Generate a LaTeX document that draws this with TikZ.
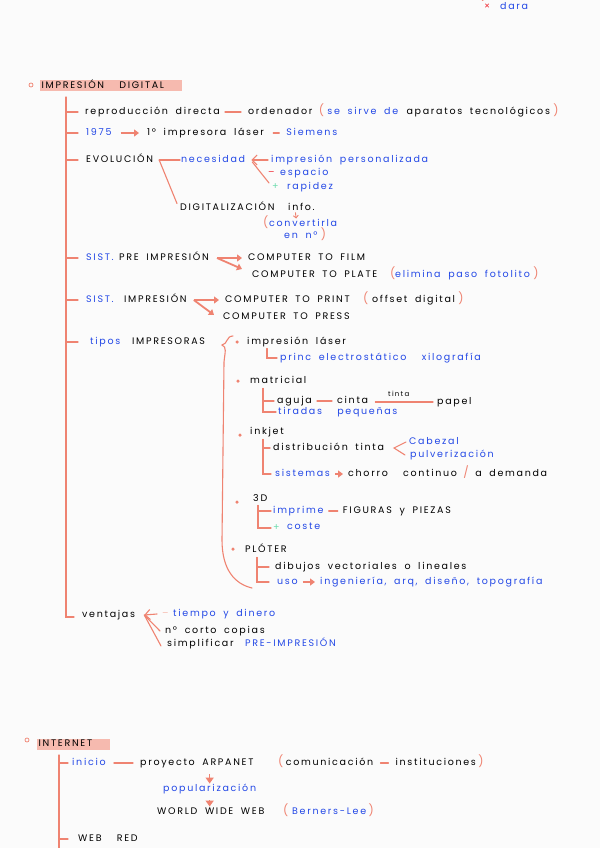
\documentclass[tikz,border=0pt]{standalone}
\usepackage{fontspec}
\setmainfont{Poppins}
\newfontfamily\hwf[LetterSpace=18,WordSpace=1.8]{Poppins}
\usetikzlibrary{arrows.meta}
\definecolor{sal}{HTML}{EF8371}
\definecolor{blu}{HTML}{2348E6}
\definecolor{hl}{HTML}{F6BAAF}
\definecolor{grn}{HTML}{70DDB0}
\definecolor{rd}{HTML}{F0303A}
\definecolor{bg}{HTML}{FBFBFB}
\newcommand\lowf{\hwf\fontsize{9.5}{10}\selectfont}
\newcommand\capf{\hwf\fontsize{9.5}{10}\selectfont}
\newcommand\smlf{\hwf\fontsize{7}{8}\selectfont}
\newcommand\parf{\hwf\fontsize{11.5}{12}\selectfont}
\tikzset{
  tx/.style={inner sep=0pt, anchor=west, font=\lowf, text=black, text height=6.5pt, text depth=2pt},
  bx/.style={tx, text=blu},
  kx/.style={tx, font=\capf},
  kb/.style={kx, text=blu},
  px/.style={tx, font=\parf, text=sal},
  gx/.style={tx, text=grn},
  rx/.style={tx, text=rd},
  ln/.style={draw=sal, line width=1.1pt, line cap=round},
  arr/.style={draw=sal, line width=1.8pt, -{Triangle[length=5pt,width=7pt]}},
  darr/.style={draw=sal, line width=1.4pt, -{Triangle[length=6pt,width=8pt]}, shorten <=7pt},
  barb/.style={ln, {Straight Barb[length=5pt,width=10pt]}-},
  ttl/.style={anchor=west, fill=hl, font=\capf, inner xsep=1.5pt, inner ysep=2pt, text height=6pt, text depth=1pt},
  bul/.style={circle, draw=sal, line width=.7pt, inner sep=0pt, minimum size=4pt},
  dot/.style={circle, fill=sal, inner sep=0pt, minimum size=3.5pt},
}
\begin{document}
\begin{tikzpicture}[x=1pt,y=-1pt]
\fill[bg] (0,0) rectangle (600,848);
\useasboundingbox (0,0) rectangle (600,848);

% top fragments
\node[rx] (x1) at (484,7) {×};
\node[bx] (dar) at (500,7) {dara};
\draw[ln] ([xshift=-1pt,yshift=2pt]x1.north west) -- ++(-10,-10);

% ===== IMPRESION DIGITAL =====
\node[bul] (b1) at (31,85) {};
\node[ttl] (t1) at (40,86) {\makebox[139pt][l]{IMPRESIÓN\ \ DIGITAL}};
\coordinate (s1) at (66,97);
\coordinate (s1b) at (66,617);
\draw[ln] (s1) -- (s1b) -- ++(8,0);

% row 1
\node[tx] (rep) at (85,112) {reproducción directa};
\node[tx] (ord) at (248,112) {ordenador};
\draw[ln] ([xshift=5pt]rep.east) -- ([xshift=-7pt]ord.west);
\node[px] (p1) at ([xshift=6pt]ord.east) {(};
\node[bx] (ssd) at ([xshift=3pt]p1.east) {se sirve de};
\node[tx] (apt) at ([xshift=8pt]ssd.east) {aparatos tecnológicos};
\node[px] (p2) at ([xshift=3pt]apt.east) {)};

% row 2
\node[bx] (y75) at (86,133) {1975};
\node[tx] (imp) at (147,133) {1º impresora láser};
\draw[arr] ([xshift=9pt]y75.east) -- ([xshift=-8pt]imp.west);
\node[bx] (sie) at ([xshift=22pt]imp.east) {Siemens};
\draw[ln] ([xshift=9pt]imp.east) -- ([xshift=-7pt]sie.west);

% row 3
\node[kx] (evo) at (86,160) {EVOLUCIÓN};
\node[bx] (nec) at (181,160) {necesidad};
\coordinate (ej) at ([xshift=6pt]evo.east);
\draw[ln] (ej) -- ([xshift=-1pt]nec.west);
\node[kx] (dig) at (180,208) {DIGITALIZACIÓN};
\draw[ln] (ej) -- ([xshift=-3pt]dig.north west);
\node[bx] (ips) at (271,160) {impresión personalizada};
\node[rx] (mn) at (268,173) {–};
\node[bx] (esp) at (280,173) {espacio};
\node[gx] (pl) at (272,187) {+};
\node[bx] (rap) at (287,187) {rapidez};
\draw[barb] ([xshift=6pt]nec.east) -- ([xshift=-3pt]ips.west);
\draw[ln] ([xshift=7pt,yshift=-2pt]nec.east) -- ([xshift=-3pt,yshift=4pt]pl.west);
\node[tx] (inf) at (288,208) {info.};
\node[px] (p3) at (263,224) {(};
\node[bx] (conv) at (269,224) {convertirla};
\node[bx] (enn) at (284,236) {en nº};
\node[px] (p4) at ([xshift=3pt]enn.east) {)};
\draw[draw=sal, line width=.9pt, -{Straight Barb[length=2.5pt,width=5pt]}] ([xshift=-6pt]inf.south) -- ([xshift=-7pt,yshift=1pt]conv.north);

% row 4
\node[kb] (sis1) at (86,258) {SIST.};
\node[kx] (pre) at (119,258) {PRE IMPRESIÓN};
\node[kx] (ctf) at (248,258) {COMPUTER TO FILM};
\node[kx] (ctp) at (252,275) {COMPUTER TO PLATE};
\coordinate (f1) at ([xshift=8pt]pre.east);
\draw[arr] (f1) -- ([xshift=-6pt]ctf.west);
\draw[arr] (f1) -- ([xshift=-10pt,yshift=6pt]ctp.west);
\node[px] (p5) at (390,275) {(};
\node[bx] (eli) at (395,275) {elimina paso fotolito};
\node[px] (p6) at ([xshift=3pt]eli.east) {)};

% row 5
\node[kb] (sis2) at (86,300) {SIST.};
\node[kx] (imp2) at (124,300) {IMPRESIÓN};
\node[kx] (ctpr) at (225,300) {COMPUTER TO PRINT};
\node[kx] (ctps) at (223,317) {COMPUTER TO PRESS};
\coordinate (f2) at ([xshift=7pt]imp2.east);
\draw[arr] (f2) -- ([xshift=-6pt]ctpr.west);
\draw[arr] (f2) -- ([xshift=-9pt,yshift=2pt]ctps.west);
\node[px] (p7) at (363,300) {(};
\node[tx] (off) at (372,300) {offset digital};
\node[px] (p8) at ([xshift=3pt]off.east) {)};

% row 6
\node[bx] (tip) at (90,342) {tipos};
\node[kx] (imps) at (132,342) {IMPRESORAS};
\draw[ln] (233,336) .. controls (226,336) and (228,344) .. (222,345)
  .. controls (227,347) and (225,352) .. (224,362) -- (222,540)
  .. controls (222,570) and (235,584) .. (252,588);

\node[dot] (d1) at (237,342) {};
\node[tx] (las) at (247,342) {impresión láser};
\node[bx] (pri) at (280,358) {princ electrostático\ \ xilografía};
\draw[ln] ([xshift=20pt,yshift=-2pt]las.south west) |- ([xshift=-3pt]pri.west);

\node[dot] (d2) at (238,381) {};
\node[tx] (mat) at (250,381) {matricial};
\coordinate (m1) at ([xshift=13pt,yshift=-3pt]mat.south west);
\node[tx] (agu) at (277,401) {aguja};
\node[tx] (cin) at (337,401) {cinta};
\node[tx] (pap) at (437,402) {papel};
\node[tx, font=\smlf] (tin) at (388,394) {tinta};
\node[bx] (tir) at (278,412) {tiradas\ \ pequeñas};
\draw[ln] (m1) |- ([xshift=-3pt]agu.west);
\draw[ln] (m1) |- ([xshift=-2pt]tir.west);
\draw[ln] ([xshift=5pt]agu.east) -- ([xshift=-5pt]cin.west);
\draw[ln] ([xshift=7pt,yshift=-1pt]cin.east) -- ([xshift=-4pt]pap.west);

\node[dot] (d3) at (240,435) {};
\node[tx] (ink) at (250,432) {inkjet};
\coordinate (i1) at ([xshift=13pt,yshift=-3pt]ink.south west);
\node[tx] (dis) at (273,448) {distribución tinta};
\node[bx] (cab) at (409,442) {Cabezal};
\node[bx] (pul) at (410,455) {pulverización};
\draw[ln] ([xshift=-3pt]cab.west) -- ([xshift=-15pt,yshift=-6pt]cab.west) -- ([xshift=-5pt]pul.west);
\node[bx] (sis) at (275,474) {sistemas};
\node[tx] (cho) at (348,474) {chorro\ \ continuo};
\node[px] (sl) at ([xshift=6pt]cho.east) {/};
\node[tx] (dem) at ([xshift=6pt]sl.east) {a demanda};
\draw[ln] (i1) |- ([xshift=-3pt]dis.west);
\draw[ln] (i1) |- ([xshift=-4pt]sis.west);
\draw[arr] ([xshift=5pt]sis.east) -- ([xshift=-5pt]cho.west);

\node[dot] (d4) at (237,502) {};
\node[kx] (tdd) at (253,499) {3D};
\coordinate (b4) at ([xshift=5pt,yshift=-2pt]tdd.south west);
\node[bx] (ipr) at (273,511) {imprime};
\node[kx] (fig) at ([xshift=19pt]ipr.east) {FIGURAS y PIEZAS};
\node[gx] (pl2) at (273,528) {+};
\node[bx] (cos) at (287,527) {coste};
\draw[ln] (b4) |- ([xshift=-2pt]ipr.west);
\draw[ln] (b4) |- ([xshift=-2pt]pl2.west);
\draw[ln] ([xshift=5pt]ipr.east) -- ([xshift=-5pt]fig.west);

\node[dot] (d5) at (233,549) {};
\node[kx] (plo) at (245,550) {PLÓTER};
\coordinate (b5) at ([xshift=12pt,yshift=-3pt]plo.south west);
\node[tx] (dib) at (275,567) {dibujos vectoriales o lineales};
\node[bx] (uso) at (277,582) {uso};
\node[bx] (ing) at (320,582) {ingeniería, arq, diseño, topografía};
\draw[ln] (b5) |- ([xshift=-6pt]dib.west);
\draw[ln] (b5) |- ([xshift=-8pt]uso.west);
\draw[arr] ([xshift=5pt]uso.east) -- ([xshift=-5pt]ing.west);

% row 7
\node[tx] (ven) at (82,615) {ventajas};
\coordinate (vt) at ([xshift=9pt]ven.east);
\node[tx, text=hl] (fd) at (162,614) {–};
\node[bx] (tie) at (173,614) {tiempo y dinero};
\node[tx] (nco) at (165,631) {nº corto copias};
\node[tx] (sim) at (167,644) {simplificar};
\node[kb] (pim) at (245,644) {PRE-IMPRESIÓN};
\draw[barb] (vt) -- ([xshift=-16pt]tie.west);
\draw[ln] (vt) -- ([xshift=-5pt]nco.west);
\draw[ln] (vt) -- ([xshift=-6pt,yshift=-2pt]sim.west);

% ===== INTERNET =====
\node[bul] (b2) at (27,740) {};
\node[ttl] (t2) at (37,744) {\makebox[70pt][l]{INTERNET}};
\coordinate (s2) at (59,755);
\coordinate (s2b) at (59,850);
\draw[ln] (s2) -- (s2b);
\node[bx] (ini) at (72,763) {inicio};
\node[tx] (pro) at (140,763) {proyecto {\capf ARPANET}};
\draw[ln] ([xshift=8pt]ini.east) -- ([xshift=-7pt]pro.west);
\node[px] (p9) at (278,763) {(};
\node[tx] (com) at ([xshift=2pt]p9.east) {comunicación};
\node[tx] (ins) at ([xshift=22pt]com.east) {instituciones};
\draw[ln] ([xshift=7pt]com.east) -- ([xshift=-7pt]ins.west);
\node[px] (p10) at ([xshift=2pt]ins.east) {)};
\node[bx] (pop) at (163,789) {popularización};
\draw[darr] (pop.north |- pro.south) -- ([yshift=1pt]pop.north);
\node[kx] (www) at (157,812) {WORLD WIDE WEB};
\node[px] (p11) at (283,812) {(};
\node[bx] (ber) at (292,812) {Berners-Lee};
\node[px] (p12) at ([xshift=2pt]ber.east) {)};
\draw[darr] (pop.south) -- ([yshift=1pt]pop.south |- www.north);
\node[kx] (wr) at (78,839) {WEB\ \ RED};

\foreach \n in {rep,y75,evo,sis1,sis2,tip}{\draw[ln] (s1 |- \n.west) -- ++(12,0);}
\foreach \n in {ini,wr}{\draw[ln] (s2 |- \n.west) -- ++(9,0);}
\end{tikzpicture}
\end{document}
